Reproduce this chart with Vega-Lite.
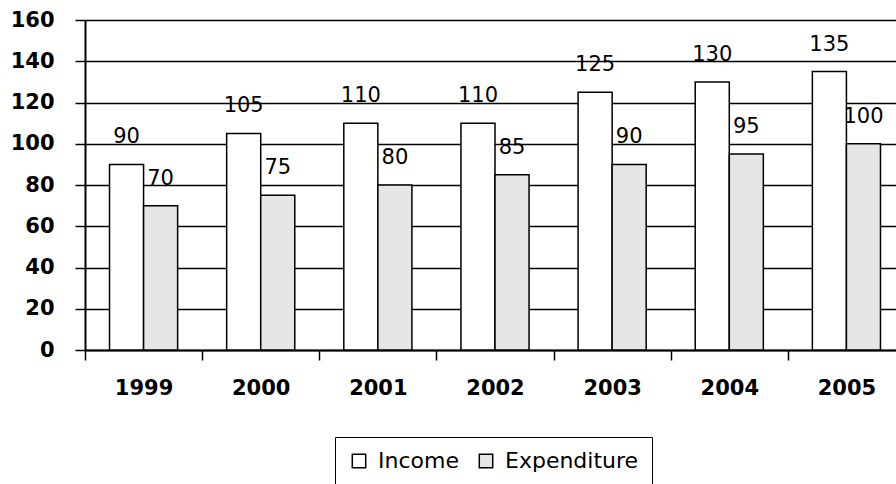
{
  "$schema": "https://vega.github.io/schema/vega-lite/v6.json",
  "width": 820,
  "height": 330,
  "autosize": {"type": "none"},
  "padding": {"left": 85, "top": 20, "right": 0, "bottom": 134},
  "background": "white",
  "config": {"view": {"stroke": null}, "font": "DejaVu Sans"},
  "data": {
    "values": [
      {"year": "1999", "series": "Income", "value": 90},
      {"year": "1999", "series": "Expenditure", "value": 70},
      {"year": "2000", "series": "Income", "value": 105},
      {"year": "2000", "series": "Expenditure", "value": 75},
      {"year": "2001", "series": "Income", "value": 110},
      {"year": "2001", "series": "Expenditure", "value": 80},
      {"year": "2002", "series": "Income", "value": 110},
      {"year": "2002", "series": "Expenditure", "value": 85},
      {"year": "2003", "series": "Income", "value": 125},
      {"year": "2003", "series": "Expenditure", "value": 90},
      {"year": "2004", "series": "Income", "value": 130},
      {"year": "2004", "series": "Expenditure", "value": 95},
      {"year": "2005", "series": "Income", "value": 135},
      {"year": "2005", "series": "Expenditure", "value": 100}
    ]
  },
  "encoding": {
    "x": {
      "field": "year", "type": "nominal",
      "scale": {"paddingInner": 0, "paddingOuter": 0},
      "axis": {
        "title": null, "labelAngle": 0, "tickBand": "extent",
        "domainColor": "black", "domainWidth": 2,
        "tickColor": "black", "tickSize": 10, "tickWidth": 1.5,
        "labelFontSize": 21, "labelFontWeight": "bold", "labelColor": "black",
        "labelPadding": 17
      }
    },
    "xOffset": {
      "field": "series", "type": "nominal", "sort": ["Income", "Expenditure"],
      "scale": {"paddingInner": 0, "paddingOuter": 0.72}
    },
    "y": {
      "field": "value", "type": "quantitative",
      "scale": {"domain": [0, 160]},
      "axis": {
        "title": null, "values": [0, 20, 40, 60, 80, 100, 120, 140, 160],
        "grid": true, "gridColor": "black", "gridWidth": 1.5, "gridOpacity": 1,
        "domainColor": "black", "domainWidth": 2,
        "tickColor": "black", "tickSize": 10, "tickWidth": 1.5,
        "labelFontSize": 21, "labelFontWeight": "bold", "labelColor": "black",
        "labelPadding": 21
      }
    }
  },
  "layer": [
    {
      "mark": {"type": "bar", "stroke": "black", "strokeWidth": 1.5},
      "encoding": {
        "fill": {
          "field": "series", "type": "nominal",
          "scale": {"domain": ["Income", "Expenditure"], "range": ["white", "#e6e6e6"]},
          "legend": {
            "orient": "none", "legendX": 250, "legendY": 417,
            "direction": "horizontal", "title": null,
            "strokeColor": "black", "padding": 13,
            "symbolType": "square", "symbolSize": 180,
            "symbolStrokeColor": "black", "symbolStrokeWidth": 1.5,
            "labelFontSize": 22, "labelColor": "black", "labelOffset": 8,
            "columnPadding": 16
          }
        }
      }
    },
    {
      "mark": {"type": "text", "baseline": "alphabetic", "dy": -21, "fontSize": 21, "color": "black"},
      "encoding": {"text": {"field": "value", "type": "quantitative"}}
    }
  ]
}
